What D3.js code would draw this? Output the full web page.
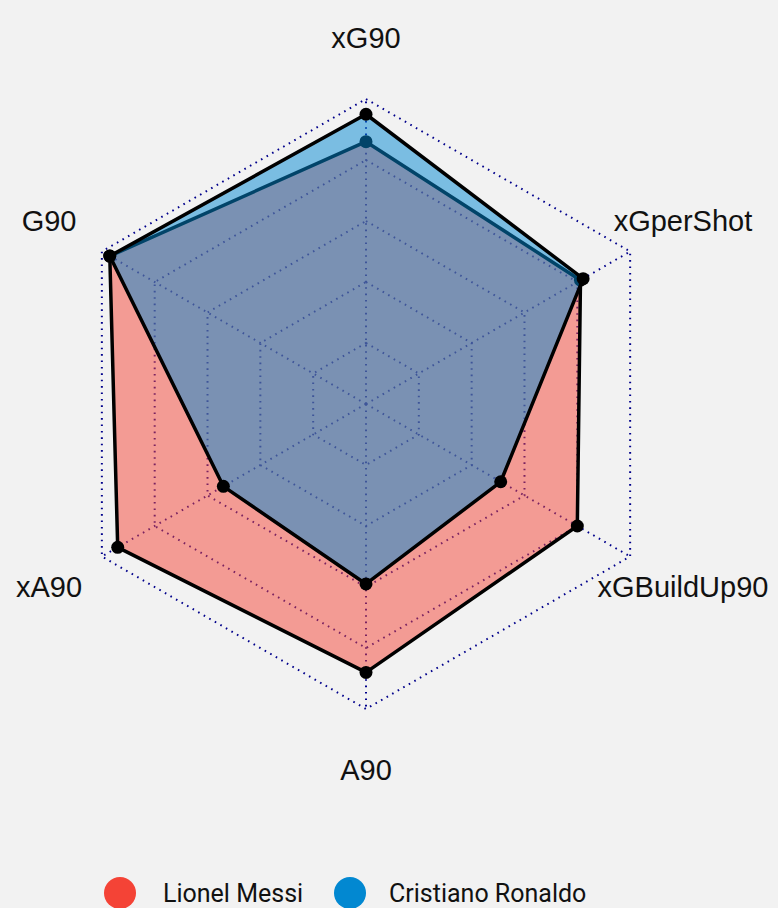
<!DOCTYPE html>
<html>
<head>
<meta charset="utf-8">
<script src="https://cdn.jsdelivr.net/npm/d3@7"></script>
<style>
  body { margin: 0; background: #f2f2f2; }
  svg { display: block; }
</style>
</head>
<body>
<script>
// axes clockwise from the top
var axes = ["xG90", "xGperShot", "xGBuildUp90", "A90", "xA90", "G90"];
var players = ["Lionel Messi", "Cristiano Ronaldo"];
var messi = [0.86, 0.812, 0.80, 0.88, 0.94, 0.97];
var ronaldo = [0.95, 0.822, 0.51, 0.59, 0.54, 0.97];
var playerColors = ["#f44336", "#0288d1"];

var width = 778, height = 908;
var cx = 366, cy = 404, radius = 305;
var levels = 5;

var svg = d3.select("body").append("svg")
  .attr("width", width)
  .attr("height", height);

svg.append("rect")
  .attr("width", width)
  .attr("height", height)
  .attr("fill", "#f2f2f2");

var chart = svg.append("g")
  .attr("transform", "translate(" + cx + "," + cy + ")");

var r = d3.scaleLinear().domain([0, 1]).range([0, radius]);
var angle = d3.scaleLinear().domain([0, axes.length]).range([0, 2 * Math.PI]);

var radarLine = d3.lineRadial()
  .angle(function (d, i) { return angle(i); })
  .radius(function (d) { return r(d); })
  .curve(d3.curveLinearClosed);

function px(v, i) { return r(v) * Math.sin(angle(i)); }
function py(v, i) { return -r(v) * Math.cos(angle(i)); }

// grid rings
var ringVals = d3.range(1, levels + 1).map(function (l) { return l / levels; });
chart.selectAll(".ring")
  .data(ringVals)
  .enter().append("path")
  .attr("class", "ring")
  .attr("d", function (v) { return radarLine(axes.map(function () { return v; })); })
  .attr("fill", "none")
  .attr("stroke", "#00008b")
  .attr("stroke-width", 2)
  .attr("stroke-dasharray", "1.6,4.8");

// spokes
chart.selectAll(".spoke")
  .data(axes)
  .enter().append("line")
  .attr("class", "spoke")
  .attr("x1", 0).attr("y1", 0)
  .attr("x2", function (d, i) { return px(1, i); })
  .attr("y2", function (d, i) { return py(1, i); })
  .attr("stroke", "#00008b")
  .attr("stroke-width", 2)
  .attr("stroke-dasharray", "1.6,4.8");

// axis labels
chart.selectAll(".axis-label")
  .data(axes)
  .enter().append("text")
  .attr("class", "axis-label")
  .attr("x", function (d, i) { return px(1.2, i); })
  .attr("y", function (d, i) { return py(1.2, i); })
  .attr("text-anchor", "middle")
  .attr("dominant-baseline", "central")
  .style("font-family", "'Liberation Sans', Arial, sans-serif")
  .style("font-size", "29px")
  .style("fill", "#111")
  .text(function (d) { return d; });

// player shapes, Messi first then Ronaldo on top
[messi, ronaldo].forEach(function (vals, p) {
  var g = chart.append("g").attr("class", "player");
  g.append("path")
    .attr("d", radarLine(vals))
    .attr("fill", playerColors[p])
    .attr("fill-opacity", 0.5)
    .attr("stroke", "#000")
    .attr("stroke-width", 3.5)
    .attr("stroke-linejoin", "round");
  g.selectAll("circle")
    .data(vals)
    .enter().append("circle")
    .attr("cx", function (d, i) { return px(d, i); })
    .attr("cy", function (d, i) { return py(d, i); })
    .attr("r", 6.5)
    .attr("fill", "#000");
});

// legend
var legendX = [120, 350];
var legend = svg.selectAll(".legend")
  .data(players)
  .enter().append("g")
  .attr("class", "legend")
  .attr("transform", function (d, i) { return "translate(" + legendX[i] + ",893)"; });

legend.append("circle")
  .attr("r", 16)
  .attr("fill", function (d, i) { return playerColors[i]; });

legend.append("text")
  .attr("x", function (d, i) { return i === 0 ? 43 : 39; })
  .attr("y", 0)
  .attr("dominant-baseline", "central")
  .style("font-family", "Roboto, sans-serif")
  .style("font-size", "25px")
  .style("fill", "#111")
  .text(function (d) { return d; });
</script>
</body>
</html>
